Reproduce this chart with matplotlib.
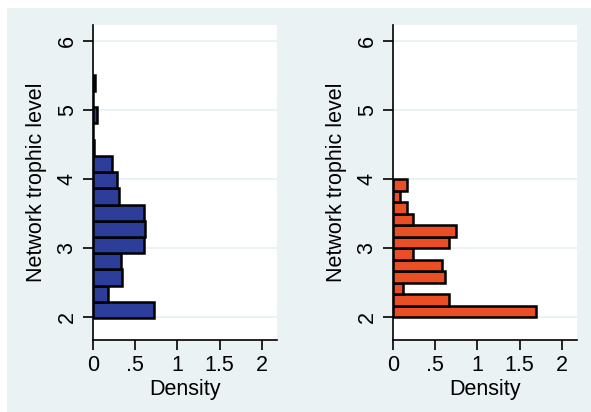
import matplotlib
matplotlib.use("Agg")
import matplotlib.pyplot as plt
from matplotlib.patches import Rectangle
import numpy as np

plt.rcParams['font.family'] = ['Liberation Sans', 'DejaVu Sans']

# Left panel histogram (density by trophic-level bin, bottom to top)
left_bin_start = 1.985
left_bin_width = 0.235
left_density = [0.72, 0.18, 0.34, 0.33, 0.60, 0.62, 0.60, 0.31, 0.29, 0.22,
                0.01, 0.0, 0.05, 0.0, 0.025]

# Right panel histogram
right_bin_start = 1.995
right_bin_width = 0.167
right_density = [1.69, 0.66, 0.12, 0.62, 0.58, 0.24, 0.66, 0.745, 0.24,
                 0.16, 0.08, 0.16]

y_ticks = [2, 3, 4, 5, 6]
x_ticks = [0, 0.5, 1, 1.5, 2]
x_ticklabels = ["0", ".5", "1", "1.5", "2"]
ylabel = "Network trophic level"
xlabel = "Density"

BG = "#eaf2f3"
W, H = 591, 412
fig = plt.figure(figsize=(W / 100, H / 100), dpi=100)
fig.patch.set_facecolor("white")
fig.patches.append(Rectangle((7 / W, 0), 1 - 7 / W, 1 - 8 / H,
                             transform=fig.transFigure, facecolor=BG,
                             edgecolor="none", zorder=-10))

panels = [
    (93, left_bin_start, left_bin_width, left_density, "#2d3e9a"),
    (393, right_bin_start, right_bin_width, right_density, "#e94e24"),
]

FS = 15.5
for x0, start, width, dens, color in panels:
    ax = fig.add_axes([x0 / W, 1 - 340 / H, 184 / W, 315 / H])
    ax.set_facecolor("white")
    edges = start + width * np.arange(len(dens))
    for yv in y_ticks:
        ax.axhline(yv, color=BG, lw=1.4, zorder=0)
    ax.barh(edges, dens, height=width, align="edge", color=color,
            edgecolor="black", linewidth=1.8, zorder=2)
    ax.set_xlim(0, 2.18)
    ax.set_ylim(1.667, 6.232)
    for s in ["top", "right"]:
        ax.spines[s].set_visible(False)
    for s in ["left", "bottom"]:
        ax.spines[s].set_linewidth(1.2)
        ax.spines[s].set_color("black")
        ax.spines[s].set_zorder(5)
    ax.set_yticks(y_ticks)
    ax.set_yticklabels([str(v) for v in y_ticks], rotation=90, va="center")
    ax.set_xticks(x_ticks)
    ax.set_xticklabels(x_ticklabels)
    ax.tick_params(axis="both", length=7, width=1.2, labelsize=FS,
                   colors="black", pad=4)
    ax.set_ylabel(ylabel, fontsize=FS, labelpad=7)
    ax.set_xlabel(xlabel, fontsize=FS, labelpad=2)

fig.savefig("out.png", dpi=100, facecolor=fig.get_facecolor())
